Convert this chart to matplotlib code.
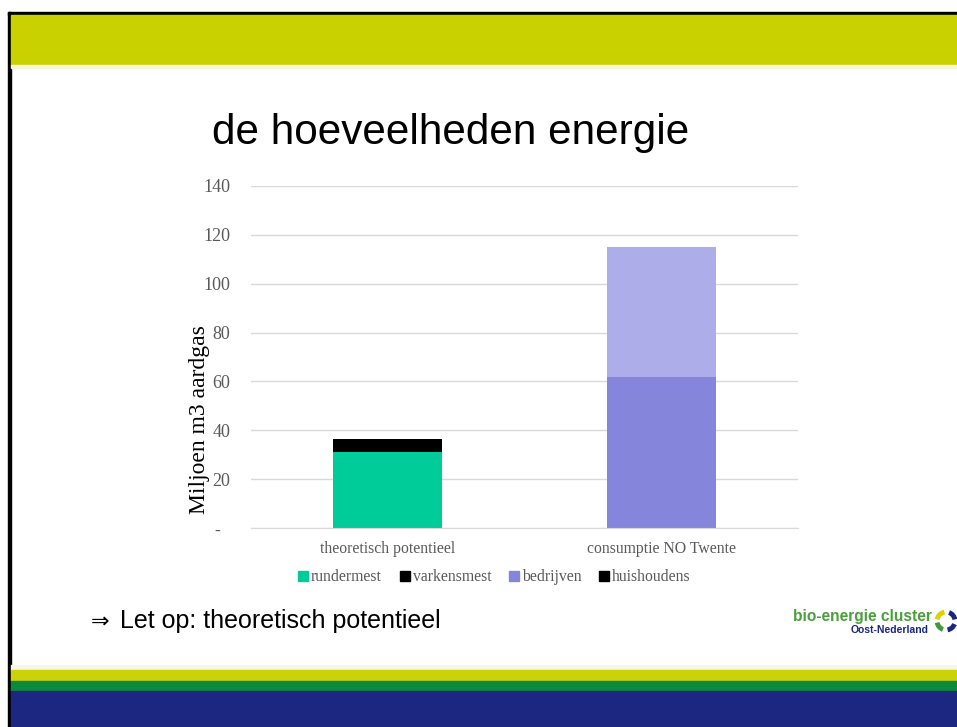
import numpy as np
import matplotlib.pyplot as plt
from matplotlib.patches import Rectangle, Arc
from matplotlib.lines import Line2D

# data (Miljoen m3 aardgas)
categories = ['theoretisch potentieel', 'consumptie NO Twente']
rundermest = [31.2, 0]
varkensmest = [5.3, 0]
bedrijven = [0, 62]
huishoudens = [0, 53]
yticks = [0, 20, 40, 60, 80, 100, 120, 140]
ytick_labels = ['-  ', '20', '40', '60', '80', '100', '120', '140']
legend_names = ['rundermest', 'varkensmest', 'bedrijven', 'huishoudens']
legend_colors = ['#00CC99', '#000000', '#8585DC', '#000000']

W, H = 957, 727
fig = plt.figure(figsize=(W / 100, H / 100), dpi=100)
fig.patch.set_facecolor('white')

# slide decoration drawn on a full-figure pixel axes
bg = fig.add_axes([0, 0, 1, 1], zorder=0)
bg.set_xlim(0, W)
bg.set_ylim(H, 0)
bg.axis('off')
bg.add_patch(Rectangle((8, 12), W, 3, color='black'))
bg.add_patch(Rectangle((8, 12), 3, H, color='black'))
bg.add_patch(Rectangle((11, 15), W, 50, color='#C9D200'))
bg.add_patch(Rectangle((11, 65), W, 3, color='#F4F7D8'))
bg.add_patch(Rectangle((11, 665), W, 5, color='#F6F7E4'))
bg.add_patch(Rectangle((11, 670), W, 11, color='#CBD20B'))
bg.add_patch(Rectangle((11, 681), W, 10, color='#0B8A3B'))
bg.add_patch(Rectangle((11, 691), W, 40, color='#1B2780'))

# title and note
fig.text(451 / W, 1 - 133 / H, 'de hoeveelheden energie', fontsize=30.4,
         family='Liberation Sans', ha='center', va='center')
fig.text(91 / W, 1 - 622 / H, '\u21d2', fontsize=16, family='DejaVu Sans',
         ha='left', va='center')
fig.text(120 / W, 1 - 621 / H, 'Let op: theoretisch potentieel', fontsize=18,
         family='Liberation Sans', ha='left', va='center')

# logo
fig.text(932 / W, 1 - 616 / H, 'bio-energie cluster', fontsize=11.2, fontweight='bold',
         family='Liberation Sans', color='#4A9E3C', ha='right', va='center')
fig.text(929 / W, 1 - 630 / H, 'Oost-Nederland', fontsize=7.5, fontweight='bold',
         family='Liberation Sans', color='#1B2780', ha='right', va='center')
for t1, t2, c in [(100, 170, '#D8D400'), (190, 250, '#3E9A3A'),
                  (280, 340, '#1B2780'), (10, 70, '#1B2780')]:
    bg.add_patch(Arc((946, 621), 18, 18, theta1=-t2, theta2=-t1, color=c, lw=3.5))

# chart
ax = fig.add_axes([251 / W, 1 - 528.3 / H, 547 / W, (528.3 - 185.7) / H], zorder=1)
ax.set_facecolor('none')
x = np.arange(len(categories))
bw = 0.4
ax.bar(x, rundermest, bw, color='#00CC99', lw=0)
ax.bar(x, varkensmest, bw, bottom=rundermest, color='#000000', lw=0)
ax.bar(x, bedrijven, bw, color='#8585DC', lw=0)
ax.bar(x, huishoudens, bw, bottom=bedrijven, color='#ADADEA', lw=0)

ax.set_xlim(-0.5, 1.5)
ax.set_ylim(0, 140)
ax.set_yticks(yticks)
ax.set_yticklabels(ytick_labels, family='Liberation Serif', fontsize=13, color='#595959')
ax.set_xticks(x)
ax.set_xticklabels(categories, family='Liberation Serif', fontsize=11.3, color='#595959')
ax.tick_params(axis='y', length=0, pad=15)
ax.tick_params(axis='x', length=0, pad=9)
ax.grid(axis='y', color='#D9D9D9', lw=1)
ax.set_axisbelow(True)
for s in ['top', 'right', 'left']:
    ax.spines[s].set_visible(False)
ax.spines['bottom'].set_color('#D9D9D9')

fig.text(199 / W, 1 - 420 / H, 'Miljoen m3 aardgas', rotation=90, fontsize=17,
         family='Liberation Serif', ha='center', va='center')

handles = [Line2D([], [], marker='s', ls='', markersize=6.5, color=c) for c in legend_colors]
leg = fig.legend(handles, legend_names, loc='center', bbox_to_anchor=(495 / W, 1 - 577 / H),
                 ncol=4, frameon=False, handlelength=0.5, handletextpad=0.25,
                 columnspacing=1.2, prop={'family': 'Liberation Serif', 'size': 11.3})
for t in leg.get_texts():
    t.set_color('#595959')

fig.savefig('out.png', dpi=100)
